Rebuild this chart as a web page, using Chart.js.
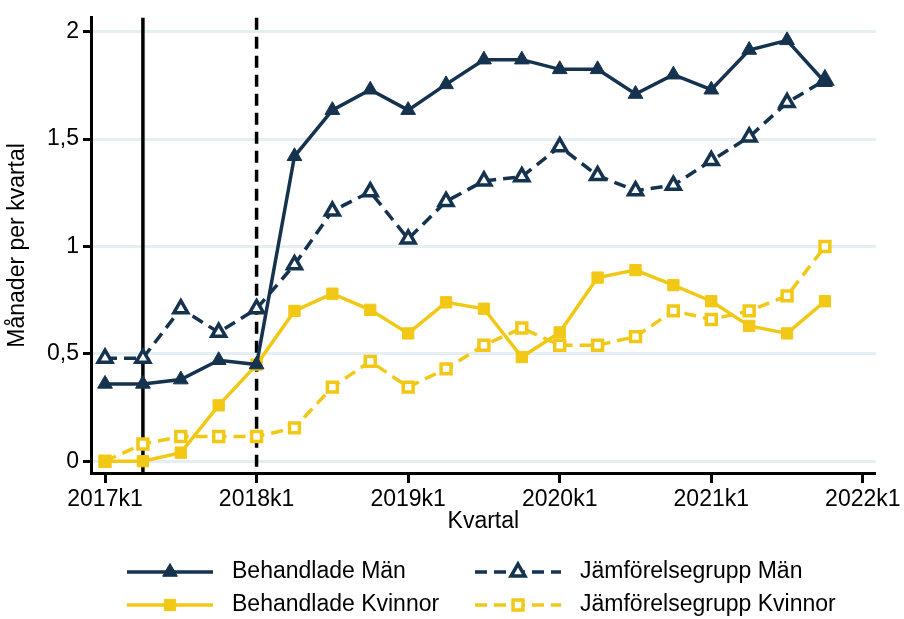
<!DOCTYPE html>
<html>
<head>
<meta charset="utf-8">
<script src="https://cdn.jsdelivr.net/npm/chart.js@4/dist/chart.umd.min.js"></script>
<style>
  body { margin: 0; background: #fff; }
</style>
</head>
<body>
<canvas id="chart" width="904" height="619"></canvas>
<script>
// Quarters 2017k1 .. 2021k4 (x = quarter index)
const quarters = ['2017k1', '2017k2', '2017k3', '2017k4', '2018k1', '2018k2', '2018k3', '2018k4',
  '2019k1', '2019k2', '2019k3', '2019k4', '2020k1', '2020k2', '2020k3', '2020k4',
  '2021k1', '2021k2', '2021k3', '2021k4'];
const xTickLabels = ['2017k1', '2018k1', '2019k1', '2020k1', '2021k1', '2022k1'];
const yTicks = [0, 0.5, 1, 1.5, 2];
const eventQuarters = [1, 4]; // solid line at 2017k2, dashed at 2018k1

// Series values (months per quarter)
const behandladeMan = [0.36, 0.36, 0.38, 0.47, 0.45, 1.42, 1.635, 1.73, 1.635, 1.755,
  1.87, 1.87, 1.825, 1.825, 1.71, 1.80, 1.73, 1.915, 1.96, 1.765];
const jamforelseMan = [0.48, 0.48, 0.71, 0.60, 0.71, 0.915, 1.165, 1.255, 1.035, 1.21,
  1.305, 1.325, 1.465, 1.33, 1.26, 1.285, 1.40, 1.51, 1.67, 1.775];
const behandladeKvinnor = [0.0, 0.0, 0.04, 0.26, 0.45, 0.70, 0.78, 0.705, 0.595, 0.74,
  0.71, 0.485, 0.60, 0.855, 0.89, 0.82, 0.745, 0.63, 0.595, 0.745];
const jamforelseKvinnor = [0.0, 0.08, 0.115, 0.115, 0.115, 0.155, 0.345, 0.465, 0.345, 0.43,
  0.54, 0.62, 0.54, 0.54, 0.58, 0.70, 0.66, 0.70, 0.77, 1.0];

const NAVY = '#15324f';
const YELLOW = '#f2c816';
const FONT = "'Liberation Sans', Arial, sans-serif";

const toPoints = (vals) => vals.map((v, i) => ({ x: i, y: v }));

const datasets = [
  {
    label: 'Behandlade Män',
    data: toPoints(behandladeMan),
    borderColor: NAVY, backgroundColor: NAVY,
    borderWidth: 3.5,
    pointStyle: 'triangle', pointRadius: 8.5, pointBorderWidth: 1,
    pointBackgroundColor: NAVY, pointBorderColor: NAVY,
  },
  {
    label: 'Jämförelsegrupp Män',
    data: toPoints(jamforelseMan),
    borderColor: NAVY, backgroundColor: '#fff',
    borderWidth: 3.5, borderDash: [12, 7],
    pointStyle: 'triangle', pointRadius: 8, pointBorderWidth: 3.5,
    pointBackgroundColor: '#fff', pointBorderColor: NAVY,
  },
  {
    label: 'Behandlade Kvinnor',
    data: toPoints(behandladeKvinnor),
    borderColor: YELLOW, backgroundColor: YELLOW,
    borderWidth: 3.5,
    pointStyle: 'rect', pointRadius: 8, pointBorderWidth: 1,
    pointBackgroundColor: YELLOW, pointBorderColor: YELLOW,
  },
  {
    label: 'Jämförelsegrupp Kvinnor',
    data: toPoints(jamforelseKvinnor),
    borderColor: YELLOW, backgroundColor: '#fff',
    borderWidth: 3.5, borderDash: [12, 7],
    pointStyle: 'rect', pointRadius: 7, pointBorderWidth: 3.5,
    pointBackgroundColor: '#fff', pointBorderColor: YELLOW,
  },
];

// vertical reference lines, placed through the x scale
const eventLines = {
  id: 'eventLines',
  beforeDatasetsDraw(chart) {
    const { ctx, chartArea, scales } = chart;
    ctx.save();
    ctx.strokeStyle = '#000';
    ctx.lineWidth = 3.5;
    eventQuarters.forEach((q, i) => {
      const x = scales.x.getPixelForValue(q);
      ctx.setLineDash(i === 0 ? [] : [12, 7]);
      ctx.beginPath();
      ctx.moveTo(x, chartArea.top);
      ctx.lineTo(x, chartArea.bottom);
      ctx.stroke();
    });
    ctx.restore();
  }
};

// two-column legend under the chart, line + marker like the original
const bottomLegend = {
  id: 'bottomLegend',
  afterDraw(chart) {
    const { ctx } = chart;
    const cols = [127, 475];
    const rows = [572, 605];
    const order = [0, 1, 2, 3]; // row-major: BM, JM / BK, JK
    ctx.save();
    order.forEach((di, k) => {
      const ds = chart.data.datasets[di];
      const x0 = cols[k % 2];
      const y = rows[Math.floor(k / 2)];
      const x1 = x0 + 86;
      ctx.strokeStyle = ds.borderColor;
      ctx.lineWidth = 3.5;
      ctx.setLineDash(ds.borderDash || []);
      ctx.beginPath();
      ctx.moveTo(x0, y);
      ctx.lineTo(x1, y);
      ctx.stroke();
      ctx.setLineDash([]);
      ctx.fillStyle = ds.pointBackgroundColor;
      ctx.strokeStyle = ds.pointBorderColor;
      ctx.lineWidth = ds.pointBorderWidth;
      Chart.helpers.drawPoint(ctx, {
        pointStyle: ds.pointStyle, radius: ds.pointRadius, rotation: 0, borderWidth: ds.pointBorderWidth
      }, (x0 + x1) / 2, y);
      ctx.fillStyle = '#000';
      ctx.font = '23px ' + FONT;
      ctx.textBaseline = 'middle';
      ctx.textAlign = 'left';
      ctx.fillText(ds.label, x1 + 19, y);
    });
    ctx.restore();
  }
};

new Chart(document.getElementById('chart'), {
  type: 'line',
  data: { datasets },
  options: {
    responsive: false,
    animation: false,
    layout: { padding: { left: 0, right: 26, top: 13, bottom: 70 } },
    elements: { line: { tension: 0 } },
    plugins: {
      legend: { display: false },
      tooltip: { enabled: false },
    },
    scales: {
      x: {
        type: 'linear',
        min: -0.37,
        max: 20.34,
        afterBuildTicks: (scale) => {
          scale.ticks = xTickLabels.map((_, i) => ({ value: i * 4 }));
        },
        afterFit: (scale) => { scale.height = 76; },
        ticks: {
          callback: (v) => xTickLabels[Math.round(v / 4)],
          color: '#000',
          font: { family: FONT, size: 23 },
          padding: 3,
          maxRotation: 0,
          autoSkip: false,
        },
        grid: {
          drawOnChartArea: false,
          tickLength: 10,
          tickWidth: 3,
          tickColor: '#000',
        },
        border: { color: '#000', width: 3 },
        title: {
          display: true,
          text: 'Kvartal',
          color: '#000',
          font: { family: FONT, size: 23 },
          padding: { top: 0, bottom: 14 },
        },
      },
      y: {
        min: -0.055,
        max: 2.065,
        afterBuildTicks: (scale) => {
          scale.ticks = yTicks.map((v) => ({ value: v }));
        },
        afterFit: (scale) => { scale.width = 91; },
        ticks: {
          callback: (v) => String(v).replace('.', ','),
          color: '#000',
          font: { family: FONT, size: 23 },
          padding: 4,
        },
        grid: {
          color: '#e5eef0',
          lineWidth: 3,
          tickLength: 8,
          tickWidth: 3,
          tickColor: '#000',
        },
        border: { color: '#000', width: 3 },
        title: {
          display: true,
          text: 'Månader per kvartal',
          color: '#000',
          font: { family: FONT, size: 23 },
          padding: { top: 4, bottom: 0 },
        },
      },
    },
  },
  plugins: [eventLines, bottomLegend],
});
</script>
</body>
</html>
